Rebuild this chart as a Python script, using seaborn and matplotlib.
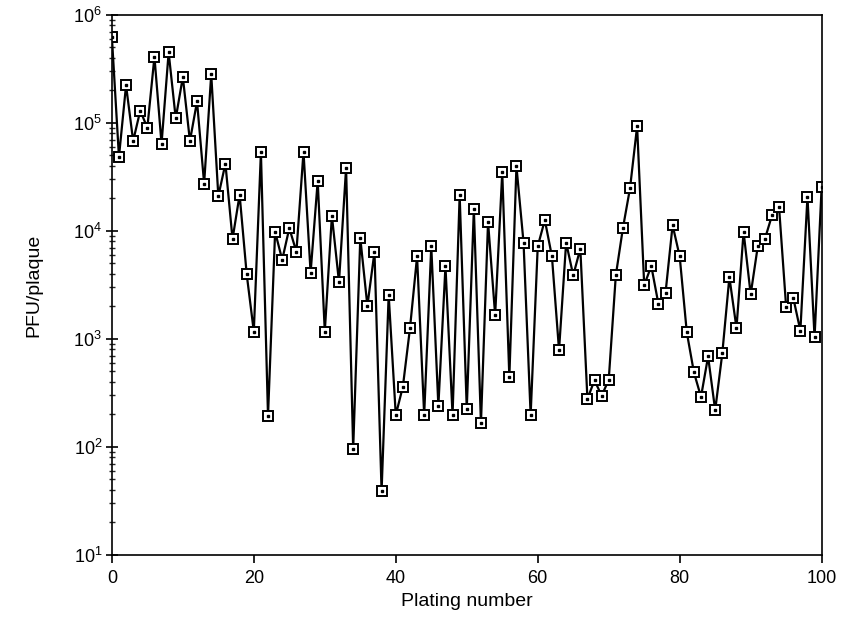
"""
PFU/plaque değerleri - ardışık plaka aktarımları boyunca (log ölçek).
"""

import numpy as np
import pandas as pd
import matplotlib
matplotlib.use("Agg")
import matplotlib.pyplot as plt
import matplotlib.ticker as mticker
import seaborn as sns

# Plaka numarası 0..100
PLAKA_NO = list(range(101))

# Her plakadaki PFU/plaque
PFU_DEGERLERI = [
    6.3e5, 4.85e4, 2.23e5, 6.8e4, 1.3e5, 9.0e4, 4.1e5, 6.4e4, 4.5e5, 1.1e5,
    2.66e5, 6.8e4, 1.58e5, 2.74e4, 2.82e5, 2.1e4, 4.2e4, 8.4e3, 2.16e4, 3.95e3,
    1.17e3, 5.36e4, 194, 9.8e3, 5.4e3, 1.06e4, 6.4e3, 5.4e4, 4.1e3, 2.9e4,
    1.17e3, 1.38e4, 3.36e3, 3.83e4, 96, 8.6e3, 2.02e3, 6.4e3, 38.7, 2.55e3,
    197, 361, 1.25e3, 5.8e3, 197, 7.2e3, 240, 4.7e3, 197, 2.15e4,
    224, 1.59e4, 165, 1.21e4, 1.66e3, 3.48e4, 442, 3.96e4, 7.8e3, 197,
    7.2e3, 1.26e4, 5.8e3, 787, 7.8e3, 3.87e3, 6.85e3, 278, 414, 297,
    417, 3.87e3, 1.06e4, 2.48e4, 9.3e4, 3.15e3, 4.72e3, 2.11e3, 2.65e3, 1.13e4,
    5.8e3, 1.15e3, 491, 290, 687, 218, 733, 3.73e3, 1.26e3, 9.8e3,
    2.58e3, 7.2e3, 8.4e3, 1.39e4, 1.65e4, 1.96e3, 2.4e3, 1.19e3, 2.07e4, 1.03e3,
    2.57e4,
]

X_TICKLER = [0, 20, 40, 60, 80, 100]

sns.set_style("ticks")
plt.rcParams["font.family"] = ["Liberation Sans", "DejaVu Sans"]
plt.rcParams["mathtext.fontset"] = "custom"
plt.rcParams["mathtext.rm"] = "Liberation Sans"
plt.rcParams["mathtext.default"] = "regular"
plt.rcParams["text.color"] = "black"
plt.rcParams["axes.labelcolor"] = "black"

veri = pd.DataFrame({"plaka": PLAKA_NO, "pfu": PFU_DEGERLERI})

fig = plt.figure(figsize=(8.41, 6.22), dpi=100)
ax = fig.add_axes([0.133, 0.108, 0.844, 0.868])

sns.lineplot(
    data=veri, x="plaka", y="pfu", ax=ax,
    color="black", linewidth=1.6,
    marker="s", markersize=7,
    markerfacecolor="white", markeredgecolor="black", markeredgewidth=1.4,
)
# Kare içindeki küçük nokta
ax.plot(veri["plaka"], veri["pfu"], linestyle="none", marker="s",
        markersize=1.6, color="black")

ax.set_yscale("log")
ax.set_xlim(0, 100)
ax.set_ylim(10, 1e6)
ax.set_xticks(X_TICKLER)
ax.xaxis.set_minor_locator(mticker.NullLocator())
ax.yaxis.set_major_locator(mticker.LogLocator(base=10, numticks=10))
ax.yaxis.set_minor_locator(mticker.LogLocator(base=10, subs=np.arange(2, 10), numticks=10))

ax.tick_params(axis="x", which="major", direction="out", length=6,
               width=1.2, labelsize=13, colors="black", pad=5)
ax.tick_params(axis="y", which="major", direction="inout", length=8,
               width=1.2, labelsize=13, colors="black", pad=3)
ax.tick_params(axis="y", which="minor", direction="inout", length=5, width=1.0)

for kenar in ax.spines.values():
    kenar.set_linewidth(1.2)
    kenar.set_color("black")

ax.set_xlabel("Plating number", fontsize=14, labelpad=4)
ax.set_ylabel("PFU/plaque", fontsize=14, labelpad=22)

plt.savefig("out.png", dpi=100)
plt.close(fig)
